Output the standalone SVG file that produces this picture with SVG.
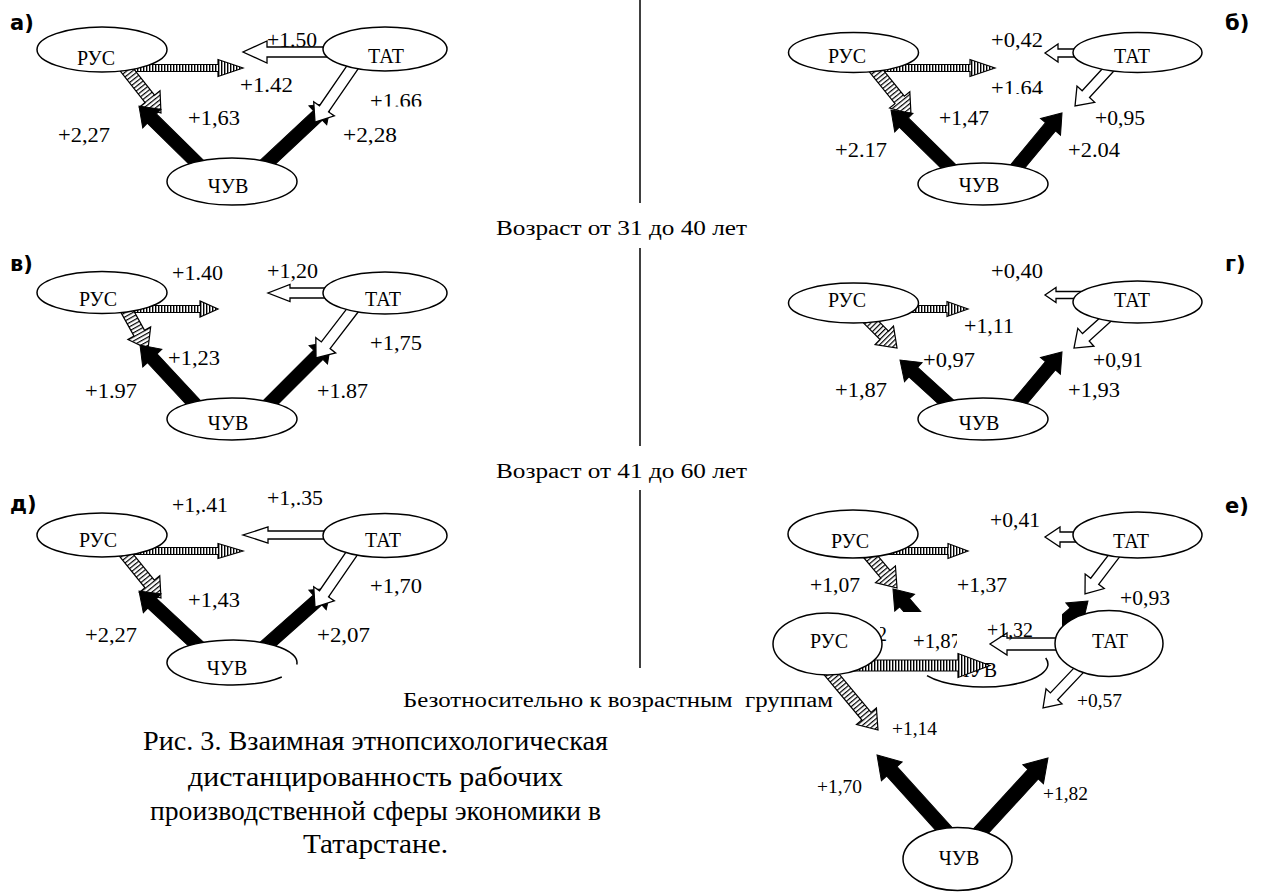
<svg xmlns="http://www.w3.org/2000/svg" width="1264" height="892" viewBox="0 0 1264 892">
<style>
.bk{fill:#000;stroke:#000;stroke-width:1}
.wh{fill:#fff;stroke:#000;stroke-width:1.3}
.st{fill:url(#vs);stroke:#000;stroke-width:1.2}
.ht{fill:url(#hd);stroke:#000;stroke-width:1.2}
.nd{fill:#fff;stroke:#000;stroke-width:1.5}
.t{font-family:"Liberation Serif",serif;font-size:20px;fill:#000}
.ts{font-family:"Liberation Serif",serif;font-size:18px;fill:#000}
.nt{font-family:"Liberation Serif",serif;font-size:20px;fill:#000;text-anchor:middle}
.pl{font-family:"DejaVu Sans",sans-serif;font-weight:bold;font-size:21px;fill:#000}
.cap{font-family:"Liberation Serif",serif;font-size:28px;fill:#000}
.dv{stroke:#000;stroke-width:1.5}
</style>
<defs>
<pattern id="vs" patternUnits="userSpaceOnUse" width="3" height="3"><rect width="3" height="3" fill="#fff"/><rect width="1.4" height="3" fill="#000"/></pattern>
<pattern id="hd" patternUnits="userSpaceOnUse" width="3.6" height="4"><rect width="3.6" height="4" fill="#fff"/><rect width="1.2" height="4" fill="#000"/></pattern>
<clipPath id="cA166"><rect x="360" y="80" width="80" height="26.5"/></clipPath>
<clipPath id="cB164"><rect x="980" y="70" width="80" height="24"/></clipPath>
<clipPath id="cE4"><rect x="850" y="560" width="120" height="52"/></clipPath>
<clipPath id="cE6"><rect x="1062" y="580" width="60" height="80"/></clipPath>
<clipPath id="cF187"><rect x="900" y="620" width="57" height="40"/></clipPath>
<clipPath id="c2"><rect x="880" y="615" width="20" height="30"/></clipPath>
</defs>
<rect width="1264" height="892" fill="#fff"/>

<g id="dividers">
<line class="dv" x1="640" y1="0" x2="640" y2="203"/>
<line class="dv" x1="640" y1="248" x2="640" y2="446"/>
<line class="dv" x1="640" y1="490" x2="640" y2="668"/>
</g>

<g id="headings">
<text class="t" x="496" y="235" textLength="251" lengthAdjust="spacingAndGlyphs">Возраст от 31 до 40 лет</text>
<text class="t" x="496" y="478" textLength="251" lengthAdjust="spacingAndGlyphs">Возраст от 41 до 60 лет</text>
<text class="t" x="403" y="707" textLength="430" lengthAdjust="spacingAndGlyphs" xml:space="preserve">Безотносительно к возрастным  группам</text>
</g>

<!-- Panel a -->
<g id="panel-a">
<g id="a-connectors">
<polygon class="st" transform="translate(125,68)" points="0,-3.5 93,-3.5 93,-8.5 118,0 93,8.5 93,3.5 0,3.5"/>
<polygon class="wh" transform="translate(340,52) rotate(180)" points="0,-5 73,-5 73,-11 97,0 73,11 73,5 0,5"/>
<polygon class="ht" transform="translate(127,70) rotate(51.67)" points="-8,-6 36.8,-6 36.8,-13 54.8,0 36.8,13 36.8,6 -8,6"/>
<polygon class="bk" transform="translate(196,162) rotate(-135.5)" points="-8,-6.5 61.9,-6.5 61.9,-13 79.9,0 61.9,13 61.9,6.5 -8,6.5"/>
<polygon class="bk" transform="translate(268,162) rotate(-43.12)" points="-8,-6.5 68.3,-6.5 68.3,-13 86.3,0 68.3,13 68.3,6.5 -8,6.5"/>
<polygon class="wh" transform="translate(352,68) rotate(124.42)" points="-8,-5.5 49.5,-5.5 49.5,-12.5 65.5,0 49.5,12.5 49.5,5.5 -8,5.5"/>
</g>
<g id="a-rus"><ellipse class="nd" cx="102" cy="49.5" rx="65" ry="22.5"/><text class="nt" x="96" y="65">РУС</text></g>
<g id="a-tat"><ellipse class="nd" cx="385" cy="49" rx="62" ry="22"/><text class="nt" x="386" y="63">ТАТ</text></g>
<g id="a-chuv"><ellipse class="nd" cx="232" cy="181.5" rx="65" ry="23.5"/><text class="nt" x="228" y="193">ЧУВ</text></g>
<g id="a-labels">
<text class="pl" x="10" y="30">а)</text>
<text class="t" x="267" y="47" textLength="50" lengthAdjust="spacingAndGlyphs">+1.50</text>
<text class="t" x="240" y="92" textLength="53" lengthAdjust="spacingAndGlyphs">+1.42</text>
<text class="t" x="370" y="107.5" textLength="52" lengthAdjust="spacingAndGlyphs" clip-path="url(#cA166)">+1.66</text>
<text class="t" x="188" y="125" textLength="52" lengthAdjust="spacingAndGlyphs">+1,63</text>
<text class="t" x="58" y="142" textLength="52" lengthAdjust="spacingAndGlyphs">+2,27</text>
<text class="t" x="343" y="142" textLength="54" lengthAdjust="spacingAndGlyphs">+2,28</text>
</g>
</g>

<!-- Panel b -->
<g id="panel-b">
<g id="b-connectors">
<polygon class="st" transform="translate(878,68)" points="0,-3.5 92,-3.5 92,-8.5 117,0 92,8.5 92,3.5 0,3.5"/>
<polygon class="wh" transform="translate(1085,53) rotate(180)" points="0,-4 27,-4 27,-9 40,0 27,9 27,4 0,4"/>
<polygon class="ht" transform="translate(878,73) rotate(51.17)" points="-8,-6 34.6,-6 34.6,-13 52.6,0 34.6,13 34.6,6 -8,6"/>
<polygon class="wh" transform="translate(1108,70) rotate(132.5)" points="-8,-5 32.8,-5 32.8,-12 48.8,0 32.8,12 32.8,5 -8,5"/>
<polygon class="bk" transform="translate(948,166) rotate(-135.5)" points="-8,-6.5 61.9,-6.5 61.9,-13 79.9,0 61.9,13 61.9,6.5 -8,6.5"/>
<polygon class="bk" transform="translate(1018,166) rotate(-50.3)" points="-8,-6.5 50.9,-6.5 50.9,-13 68.9,0 50.9,13 50.9,6.5 -8,6.5"/>
</g>
<g id="b-rus"><ellipse class="nd" cx="853.5" cy="52.5" rx="65" ry="20"/><text class="nt" x="847" y="63">РУС</text></g>
<g id="b-tat"><ellipse class="nd" cx="1137.5" cy="52.5" rx="64.5" ry="20"/><text class="nt" x="1132" y="63">ТАТ</text></g>
<g id="b-chuv"><ellipse class="nd" cx="983" cy="184" rx="65" ry="21"/><text class="nt" x="979" y="192">ЧУВ</text></g>
<g id="b-labels">
<text class="pl" x="1225" y="30">б)</text>
<text class="t" x="991" y="47" textLength="52" lengthAdjust="spacingAndGlyphs">+0,42</text>
<text class="t" x="991" y="95" textLength="52" lengthAdjust="spacingAndGlyphs" clip-path="url(#cB164)">+1,64</text>
<text class="t" x="939" y="125" textLength="50" lengthAdjust="spacingAndGlyphs">+1,47</text>
<text class="t" x="1095" y="125" textLength="50" lengthAdjust="spacingAndGlyphs">+0,95</text>
<text class="t" x="835" y="157" textLength="52" lengthAdjust="spacingAndGlyphs">+2.17</text>
<text class="t" x="1068" y="157" textLength="52" lengthAdjust="spacingAndGlyphs">+2.04</text>
</g>
</g>

<!-- Panel v -->
<g id="panel-v">
<g id="v-connectors">
<polygon class="st" transform="translate(125,309)" points="0,-3.5 75,-3.5 75,-8 93,0 75,8 75,3.5 0,3.5"/>
<polygon class="wh" transform="translate(340,293) rotate(180)" points="0,-5 50,-5 50,-8.5 72,0 50,8.5 50,5 0,5"/>
<polygon class="ht" transform="translate(127,311) rotate(61.07)" points="-8,-6 25.4,-6 25.4,-13 43.4,0 25.4,13 25.4,6 -8,6"/>
<polygon class="bk" transform="translate(193,402) rotate(-132.92)" points="-8,-6.5 59.8,-6.5 59.8,-13 77.8,0 59.8,13 59.8,6.5 -8,6.5"/>
<polygon class="bk" transform="translate(271,402) rotate(-45)" points="-8,-6.5 66.9,-6.5 66.9,-13 84.9,0 66.9,13 66.9,6.5 -8,6.5"/>
<polygon class="wh" transform="translate(352,311) rotate(127.45)" points="-8,-5.5 43.2,-5.5 43.2,-12.5 59.2,0 43.2,12.5 43.2,5.5 -8,5.5"/>
</g>
<g id="v-rus"><ellipse class="nd" cx="102" cy="292.5" rx="65" ry="21"/><text class="nt" x="98" y="306">РУС</text></g>
<g id="v-tat"><ellipse class="nd" cx="385" cy="293" rx="62" ry="21"/><text class="nt" x="383" y="306">ТАТ</text></g>
<g id="v-chuv"><ellipse class="nd" cx="232" cy="419" rx="65" ry="21"/><text class="nt" x="228" y="430">ЧУВ</text></g>
<g id="v-labels">
<text class="pl" x="10" y="271">в)</text>
<text class="t" x="172" y="280" textLength="51" lengthAdjust="spacingAndGlyphs">+1.40</text>
<text class="t" x="267" y="278" textLength="51" lengthAdjust="spacingAndGlyphs">+1,20</text>
<text class="t" x="370" y="350" textLength="52" lengthAdjust="spacingAndGlyphs">+1,75</text>
<text class="t" x="168" y="365" textLength="52" lengthAdjust="spacingAndGlyphs">+1,23</text>
<text class="t" x="85" y="398" textLength="52" lengthAdjust="spacingAndGlyphs">+1.97</text>
<text class="t" x="317" y="398" textLength="51" lengthAdjust="spacingAndGlyphs">+1.87</text>
</g>
</g>

<!-- Panel g -->
<g id="panel-g">
<g id="g-connectors">
<polygon class="st" transform="translate(885,309)" points="0,-3.5 62,-3.5 62,-7.5 83,0 62,7.5 62,3.5 0,3.5"/>
<polygon class="wh" transform="translate(1085,295) rotate(180)" points="0,-3.5 29,-3.5 29,-7.5 40,0 29,7.5 29,3.5 0,3.5"/>
<polygon class="ht" transform="translate(871,322) rotate(45)" points="-8,-6 18.8,-6 18.8,-13 36.8,0 18.8,13 18.8,6 -8,6"/>
<polygon class="wh" transform="translate(1105,320) rotate(137.9)" points="-8,-5 25.8,-5 25.8,-12 41.8,0 25.8,12 25.8,5 -8,5"/>
<polygon class="bk" transform="translate(946,402) rotate(-137.6)" points="-8,-6.5 44.3,-6.5 44.3,-13 62.3,0 44.3,13 44.3,6.5 -8,6.5"/>
<polygon class="bk" transform="translate(1020,402) rotate(-49.97)" points="-8,-6.5 47.3,-6.5 47.3,-13 65.3,0 47.3,13 47.3,6.5 -8,6.5"/>
</g>
<g id="g-rus"><ellipse class="nd" cx="853.5" cy="303" rx="65" ry="20"/><text class="nt" x="847" y="307">РУС</text></g>
<g id="g-tat"><ellipse class="nd" cx="1137.5" cy="302" rx="64.5" ry="21"/><text class="nt" x="1132" y="307">ТАТ</text></g>
<g id="g-chuv"><ellipse class="nd" cx="983" cy="419" rx="65" ry="21"/><text class="nt" x="979" y="430">ЧУВ</text></g>
<g id="g-labels">
<text class="pl" x="1225" y="271">г)</text>
<text class="t" x="991" y="278" textLength="52" lengthAdjust="spacingAndGlyphs">+0,40</text>
<text class="t" x="964" y="333" textLength="50" lengthAdjust="spacingAndGlyphs">+1,11</text>
<text class="t" x="923" y="367" textLength="52" lengthAdjust="spacingAndGlyphs">+0,97</text>
<text class="t" x="1093" y="367" textLength="50" lengthAdjust="spacingAndGlyphs">+0,91</text>
<text class="t" x="835" y="397" textLength="52" lengthAdjust="spacingAndGlyphs">+1,87</text>
<text class="t" x="1068" y="397" textLength="52" lengthAdjust="spacingAndGlyphs">+1,93</text>
</g>
</g>

<!-- Panel d -->
<g id="panel-d">
<g id="d-connectors">
<polygon class="st" transform="translate(125,551)" points="0,-3.5 93,-3.5 93,-7.5 118,0 93,7.5 93,3.5 0,3.5"/>
<polygon class="wh" transform="translate(340,535) rotate(180)" points="0,-4 72,-4 72,-8 97,0 72,8 72,4 0,4"/>
<polygon class="ht" transform="translate(127,556) rotate(51)" points="-8,-6 36,-6 36,-13 54,0 36,13 36,6 -8,6"/>
<polygon class="bk" transform="translate(196,644) rotate(-137.1)" points="-8,-6.5 59.8,-6.5 59.8,-13 77.8,0 59.8,13 59.8,6.5 -8,6.5"/>
<polygon class="bk" transform="translate(268,644) rotate(-41.63)" points="-8,-6.5 66.3,-6.5 66.3,-13 84.3,0 66.3,13 66.3,6.5 -8,6.5"/>
<polygon class="wh" transform="translate(352,553) rotate(124.42)" points="-8,-5.5 49.5,-5.5 49.5,-12.5 65.5,0 49.5,12.5 49.5,5.5 -8,5.5"/>
</g>
<g id="d-rus"><ellipse class="nd" cx="102" cy="535" rx="65" ry="22"/><text class="nt" x="98" y="547">РУС</text></g>
<g id="d-tat"><ellipse class="nd" cx="385" cy="535.5" rx="62" ry="22"/><text class="nt" x="383" y="547">ТАТ</text></g>
<g id="d-chuv"><path class="nd" d="M281.8 677 A65 22.5 0 1 1 296.75 664.5"/><text class="nt" x="227" y="675">ЧУВ</text></g>
<g id="d-labels">
<text class="pl" x="10" y="511">д)</text>
<text class="t" x="172" y="512" textLength="56" lengthAdjust="spacingAndGlyphs">+1,.41</text>
<text class="t" x="267" y="505" textLength="56" lengthAdjust="spacingAndGlyphs">+1,.35</text>
<text class="t" x="370" y="593" textLength="52" lengthAdjust="spacingAndGlyphs">+1,70</text>
<text class="t" x="188" y="607" textLength="52" lengthAdjust="spacingAndGlyphs">+1,43</text>
<text class="t" x="85" y="642" textLength="52" lengthAdjust="spacingAndGlyphs">+2,27</text>
<text class="t" x="317" y="642" textLength="53" lengthAdjust="spacingAndGlyphs">+2,07</text>
</g>
</g>

<!-- Panel e -->
<g id="panel-e">
<g id="e-connectors">
<polygon class="st" transform="translate(878,551)" points="0,-3.5 70,-3.5 70,-7.5 90,0 70,7.5 70,3.5 0,3.5"/>
<polygon class="wh" transform="translate(1085,537) rotate(180)" points="0,-5 25,-5 25,-10 40,0 25,10 25,5 0,5"/>
<polygon class="ht" transform="translate(871,557) rotate(50)" points="-8,-6 22.5,-6 22.5,-13 40.5,0 22.5,13 22.5,6 -8,6"/>
<polygon class="wh" transform="translate(1114,556) rotate(127.35)" points="-8,-5 31.8,-5 31.8,-12 47.8,0 31.8,12 31.8,5 -8,5"/>
<g clip-path="url(#cE4)"><polygon class="bk" transform="translate(945,650) rotate(-130.45)" points="0,-6.5 62.2,-6.5 62.2,-13 80.2,0 62.2,13 62.2,6.5 0,6.5"/></g>
<g clip-path="url(#cE6)"><polygon class="bk" transform="translate(1020,660) rotate(-40.95)" points="0,-6.5 72,-6.5 72,-13 90,0 72,13 72,6.5 0,6.5"/></g>
</g>
<g id="e-rus"><ellipse class="nd" cx="853" cy="534" rx="65" ry="24"/><text class="nt" x="850" y="548">РУС</text></g>
<g id="e-tat"><ellipse class="nd" cx="1137.5" cy="535" rx="64.5" ry="23"/><text class="nt" x="1131" y="548">ТАТ</text></g>
<g id="e-chuv"><path d="M927 675.7 A65 23 0 0 0 1045.7 658" fill="none" stroke="#000" stroke-width="1.5"/><text class="t" x="997" y="677" text-anchor="end">ЧУВ</text></g>
<g id="e-labels">
<text class="pl" x="1225" y="513">е)</text>
<text class="t" x="990" y="527" textLength="50" lengthAdjust="spacingAndGlyphs">+0,41</text>
<text class="t" x="810" y="592" textLength="50" lengthAdjust="spacingAndGlyphs">+1,07</text>
<text class="t" x="957" y="592" textLength="50" lengthAdjust="spacingAndGlyphs">+1,37</text>
<text class="t" x="1120" y="605" textLength="50" lengthAdjust="spacingAndGlyphs">+0,93</text>
<text class="t" x="877" y="641" clip-path="url(#c2)">2</text>
</g>
</g>

<!-- Overall (no age groups) -->
<g id="panel-all">
<g id="all-connectors">
<polygon class="st" transform="translate(850,665.5)" points="0,-5.5 108,-5.5 108,-12 140,0 108,12 108,5.5 0,5.5"/>
<polygon class="wh" transform="translate(1070,644) rotate(180)" points="0,-6 63,-6 63,-11 80,0 63,11 63,6 0,6"/>
<polygon class="ht" transform="translate(832,675) rotate(50.09)" points="-10,-6 53.7,-6 53.7,-13 71.7,0 53.7,13 53.7,6 -10,6"/>
<polygon class="wh" transform="translate(1078,671) rotate(133.4)" points="-10,-5 34.9,-5 34.9,-11 50.9,0 34.9,11 34.9,5 -10,5"/>
<polygon class="bk" transform="translate(944,829) rotate(-132.16)" points="-10,-7 77.8,-7 77.8,-14 99.8,0 77.8,14 77.8,7 -10,7"/>
<polygon class="bk" transform="translate(981,831) rotate(-47.46)" points="-10,-7 77.1,-7 77.1,-14 99.1,0 77.1,14 77.1,7 -10,7"/>
</g>
<g id="all-rus"><ellipse class="nd" cx="827.5" cy="644" rx="54.5" ry="31"/><text class="nt" x="829" y="648">РУС</text></g>
<g id="all-tat"><ellipse class="nd" cx="1109" cy="643.5" rx="54" ry="33"/><text class="nt" x="1110" y="648">ТАТ</text></g>
<g id="all-chuv"><ellipse class="nd" cx="957.5" cy="859" rx="54.5" ry="31.5"/><text class="nt" x="959" y="865">ЧУВ</text></g>
<g id="all-labels">
<text class="t" x="987" y="637" textLength="46" lengthAdjust="spacingAndGlyphs">+1,32</text>
<text class="t" x="913" y="648" textLength="48" lengthAdjust="spacingAndGlyphs" clip-path="url(#cF187)">+1,87</text>
<text class="ts" x="1077" y="707" textLength="45" lengthAdjust="spacingAndGlyphs">+0,57</text>
<text class="ts" x="892" y="735" textLength="45" lengthAdjust="spacingAndGlyphs">+1,14</text>
<text class="ts" x="817" y="793" textLength="45" lengthAdjust="spacingAndGlyphs">+1,70</text>
<text class="ts" x="1043" y="800" textLength="45" lengthAdjust="spacingAndGlyphs">+1,82</text>
</g>
</g>

<g id="caption">
<text class="cap" x="143" y="750" textLength="465" lengthAdjust="spacingAndGlyphs">Рис. 3. Взаимная этнопсихологическая</text>
<text class="cap" x="188" y="786" textLength="375" lengthAdjust="spacingAndGlyphs">дистанцированность рабочих</text>
<text class="cap" x="150" y="820" textLength="451" lengthAdjust="spacingAndGlyphs">производственной сферы экономики в</text>
<text class="cap" x="303" y="853" textLength="145" lengthAdjust="spacingAndGlyphs">Татарстане.</text>
</g>
</svg>
